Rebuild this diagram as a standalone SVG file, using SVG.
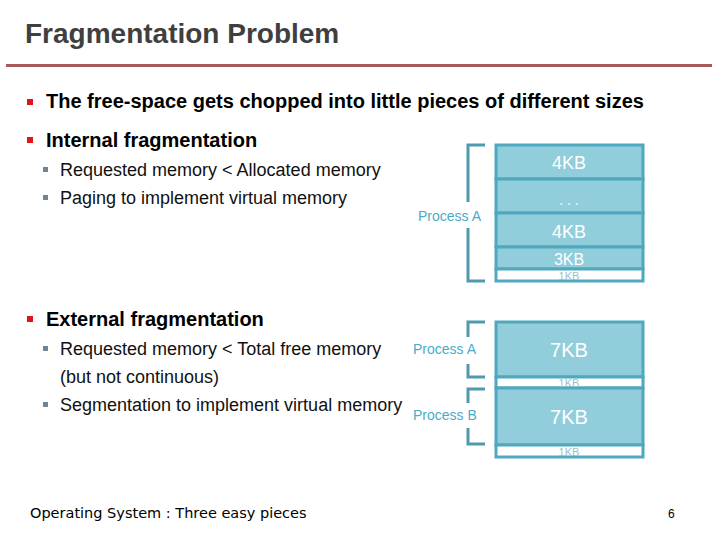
<svg xmlns="http://www.w3.org/2000/svg" width="720" height="540" viewBox="0 0 720 540">
<style>
.t{font-family:"Liberation Sans",Arial,sans-serif}
.h1{font-size:20px;font-weight:bold;fill:#000}
.h2{font-size:18px;fill:#111}
.blk{fill:#92CDDC;stroke:#4FA8BE;stroke-width:3}
.gap{fill:#fff;stroke:#4FA8BE;stroke-width:3}
.bt{fill:#fff;text-anchor:middle}
.small{fill:#9CBFCA;text-anchor:middle;font-size:11px}
.br{fill:none;stroke:#4F9AAE;stroke-width:3}
.pl{fill:#4BACC6;font-size:14px}
.rb{fill:#E0151A}
.gb{fill:#6F8497}
</style>
<rect width="720" height="540" fill="#fff"/>
<text class="t" x="25" y="43" font-size="28" font-weight="bold" fill="#3F3F3F">Fragmentation Problem</text>
<rect x="6" y="64" width="706" height="3" fill="#A85A5A"/>

<g id="bullets">
<rect class="rb" x="27" y="99" width="6" height="6"/>
<text class="t h1" x="46" y="108">The free-space gets chopped into little pieces of different sizes</text>
<rect class="rb" x="27" y="137" width="6" height="6"/>
<text class="t h1" x="46" y="147">Internal fragmentation</text>
<rect class="gb" x="43" y="167" width="5" height="5"/>
<text class="t h2" x="60" y="176">Requested memory &lt; Allocated memory</text>
<rect class="gb" x="43" y="195" width="5" height="5"/>
<text class="t h2" x="60" y="204">Paging to implement virtual memory</text>
<rect class="rb" x="27" y="316" width="6" height="6"/>
<text class="t h1" x="46" y="326">External fragmentation</text>
<rect class="gb" x="43" y="346" width="5" height="5"/>
<text class="t h2" x="60" y="355">Requested memory &lt; Total free memory</text>
<text class="t h2" x="60" y="383">(but not continuous)</text>
<rect class="gb" x="43" y="402" width="5" height="5"/>
<text class="t h2" x="60" y="411">Segmentation to implement virtual memory</text>
</g>

<g id="internal">
<rect class="blk" x="496" y="145" width="147" height="34"/>
<rect class="blk" x="496" y="179" width="147" height="34"/>
<rect class="blk" x="496" y="213" width="147" height="34"/>
<rect class="blk" x="496" y="247" width="147" height="22"/>
<rect class="gap" x="496" y="269" width="147" height="12"/>
<text class="t bt" x="569" y="169" font-size="18">4KB</text>
<text class="t bt" x="569" y="205" font-size="14">. . .</text>
<text class="t bt" x="569" y="238" font-size="18">4KB</text>
<text class="t bt" x="569" y="265" font-size="16">3KB</text>
<text class="t small" x="569" y="280">1KB</text>
</g>

<g id="external">
<rect class="blk" x="496" y="322" width="147" height="55"/>
<rect class="gap" x="496" y="377" width="147" height="11"/>
<rect class="blk" x="496" y="388" width="147" height="57"/>
<rect class="gap" x="496" y="445" width="147" height="12"/>
<text class="t bt" x="569" y="357" font-size="20">7KB</text>
<text class="t small" x="569" y="387">1KB</text>
<text class="t bt" x="569" y="424" font-size="20">7KB</text>
<text class="t small" x="569" y="456">1KB</text>
</g>

<g id="connectors">
<path class="br" d="M485 145 H468 V202 M468 228 V281 H485"/>
<path class="br" d="M485 322 H468 V337 M468 364 V377 H485"/>
<path class="br" d="M485 389 H468 V403 M468 428 V444 H485"/>
</g>
<g id="labels">
<text class="t pl" x="418" y="221">Process A</text>
<text class="t pl" x="413" y="354">Process A</text>
<text class="t pl" x="413" y="420">Process B</text>
</g>

<text x="30" y="518" font-family="'DejaVu Sans',Verdana,sans-serif" font-size="14.5" fill="#000">Operating System : Three easy pieces</text>
<text class="t" x="668" y="518" font-size="12" fill="#000">6</text>
</svg>
